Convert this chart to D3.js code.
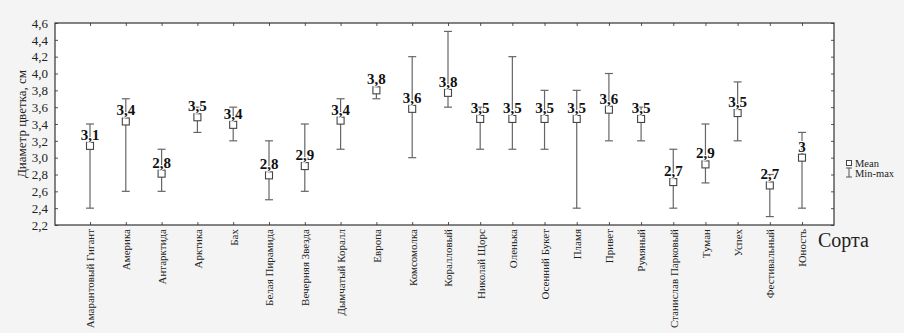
<!DOCTYPE html>
<html>
<head>
<meta charset="utf-8">
<script src="https://cdn.jsdelivr.net/npm/d3@7"></script>
<style>
  html, body { margin: 0; padding: 0; background: #f4f4f4; }
  svg { display: block; }
  svg text { font-family: "Times New Roman", Times, "Liberation Serif", "DejaVu Serif", "Noto Serif", serif; fill: #222; }
</style>
</head>
<body>
<svg id="chart" width="904" height="333"></svg>
<script>
// Flower diameter by cultivar: mean with min–max range
const categories = [
  "Амарантовый Гигант", "Америка", "Антарктида", "Арктика", "Бах",
  "Белая Пирамида", "Вечерняя Звезда", "Дымчатый Коралл", "Европа",
  "Комсомолка", "Коралловый", "Николай Щорс", "Оленька", "Осенний Букет",
  "Пламя", "Привет", "Румяный", "Станислав Парковый", "Туман", "Успех",
  "Фестивальный", "Юность"
];
const means = [3.14, 3.43, 2.81, 3.48, 3.39, 2.79, 2.90, 3.44, 3.80, 3.58, 3.77,
               3.46, 3.46, 3.46, 3.46, 3.57, 3.46, 2.71, 2.92, 3.53, 2.67, 3.00];
const mins  = [2.4, 2.6, 2.6, 3.3, 3.2, 2.5, 2.6, 3.1, 3.7, 3.0, 3.6,
               3.1, 3.1, 3.1, 2.4, 3.2, 3.2, 2.4, 2.7, 3.2, 2.3, 2.4];
const maxs  = [3.4, 3.7, 3.1, 3.6, 3.6, 3.2, 3.4, 3.7, 3.9, 4.2, 4.5,
               3.6, 4.2, 3.8, 3.8, 4.0, 3.6, 3.1, 3.4, 3.9, 2.8, 3.3];
const yTicks = [2.2, 2.4, 2.6, 2.8, 3.0, 3.2, 3.4, 3.6, 3.8, 4.0, 4.2, 4.4, 4.6];

const SERIF = '"Times New Roman", Times, "Liberation Serif", "DejaVu Serif", serif';

const svg = d3.select("#chart");
const frame = { left: 55, right: 834, top: 23, bottom: 225 };

// category index -> horizontal position (two segments with slightly different spacing)
const x = d3.scaleLinear().domain([0, 10, categories.length - 1]).range([90, 448, 802]);
const y = d3.scaleLinear().domain([2.2, 4.6]).range([frame.bottom, frame.top]);

const comma = d3.format(".1f");
const fmtTick = v => comma(v).replace(".", ",");
const fmtLabel = v => comma(v).replace(/\.0$/, "").replace(".", ",");

// plot area
svg.append("rect")
  .attr("x", frame.left).attr("y", frame.top)
  .attr("width", frame.right - frame.left).attr("height", frame.bottom - frame.top)
  .attr("fill", "#fff");

const tickIdx = d3.range(categories.length);

function styleAxis(g) {
  g.attr("font-family", SERIF);
  g.select(".domain").remove();
  g.selectAll(".tick line").attr("stroke", "#555");
}

// left axis
svg.append("g")
  .attr("transform", `translate(${frame.left},0)`)
  .call(d3.axisLeft(y).tickValues(yTicks).tickFormat(fmtTick).tickSize(-3).tickPadding(7))
  .call(styleAxis)
  .call(g => g.selectAll("text").attr("font-size", 13).attr("fill", "#333"));

// right axis (ticks only)
svg.append("g")
  .attr("transform", `translate(${frame.right},0)`)
  .call(d3.axisRight(y).tickValues(yTicks).tickFormat("").tickSize(-3))
  .call(styleAxis);

// top axis (ticks only)
svg.append("g")
  .attr("transform", `translate(0,${frame.top})`)
  .call(d3.axisTop(x).tickValues(tickIdx).tickFormat("").tickSize(-3))
  .call(styleAxis);

// bottom axis with rotated cultivar names
svg.append("g")
  .attr("transform", `translate(0,${frame.bottom})`)
  .call(d3.axisBottom(x).tickValues(tickIdx).tickFormat(i => categories[i]).tickSize(-3))
  .call(styleAxis)
  .call(g => g.selectAll("text")
    .attr("transform", "rotate(-90)")
    .attr("x", -4).attr("y", 0).attr("dy", "0.35em")
    .attr("text-anchor", "end")
    .attr("font-size", 11)
    .attr("fill", "#222"));

// frame
svg.append("rect")
  .attr("x", frame.left).attr("y", frame.top)
  .attr("width", frame.right - frame.left).attr("height", frame.bottom - frame.top)
  .attr("fill", "none").attr("stroke", "#333").attr("stroke-width", 1.2);

// min–max whiskers
const capW = 4;
const bars = svg.append("g").attr("stroke", "#666").attr("stroke-width", 1.2).attr("fill", "none");
tickIdx.forEach(i => {
  const cx = x(i);
  bars.append("line").attr("x1", cx).attr("x2", cx).attr("y1", y(mins[i])).attr("y2", y(maxs[i]));
  bars.append("line").attr("x1", cx - capW).attr("x2", cx + capW).attr("y1", y(mins[i])).attr("y2", y(mins[i]));
  bars.append("line").attr("x1", cx - capW).attr("x2", cx + capW).attr("y1", y(maxs[i])).attr("y2", y(maxs[i]));
});

// mean markers
const sq = 7;
svg.append("g").selectAll("rect").data(tickIdx).join("rect")
  .attr("x", i => x(i) - sq / 2).attr("y", i => y(means[i]) - sq / 2)
  .attr("width", sq).attr("height", sq)
  .attr("fill", "#fff").attr("stroke", "#444").attr("stroke-width", 1.1);

// value labels
svg.append("g").attr("font-family", SERIF)
  .selectAll("text").data(tickIdx).join("text")
  .attr("x", i => x(i)).attr("y", i => y(means[i]) - 6)
  .attr("text-anchor", "middle")
  .attr("font-size", 15).attr("font-weight", "bold")
  .style("fill", "#111")
  .attr("stroke", "#fff").attr("stroke-width", 2).attr("paint-order", "stroke")
  .text(i => fmtLabel(means[i]));

// axis titles
svg.append("text")
  .attr("transform", `translate(21,${(frame.top + frame.bottom) / 2}) rotate(-90)`)
  .attr("text-anchor", "middle").attr("dy", "0.35em")
  .attr("font-size", 13)
  .text("Диаметр цветка, см");

svg.append("text")
  .attr("x", 818).attr("y", 247)
  .attr("font-size", 20)
  .text("Сорта");

// legend
const lg = svg.append("g").attr("transform", "translate(849,163)");
lg.append("rect").attr("x", -2.5).attr("y", -2.5).attr("width", 5).attr("height", 5)
  .attr("fill", "#fff").attr("stroke", "#444");
lg.append("text").attr("x", 6).attr("y", 0).attr("dy", "0.35em")
  .attr("font-size", 10.5).text("Mean");
const w = lg.append("g").attr("stroke", "#555").attr("fill", "none");
w.append("line").attr("x1", 0).attr("x2", 0).attr("y1", 5).attr("y2", 14);
w.append("line").attr("x1", -3).attr("x2", 3).attr("y1", 5).attr("y2", 5);
w.append("line").attr("x1", -3).attr("x2", 3).attr("y1", 14).attr("y2", 14);
lg.append("text").attr("x", 6).attr("y", 10).attr("dy", "0.35em")
  .attr("font-size", 10.5).text("Min-max");
</script>
</body>
</html>
